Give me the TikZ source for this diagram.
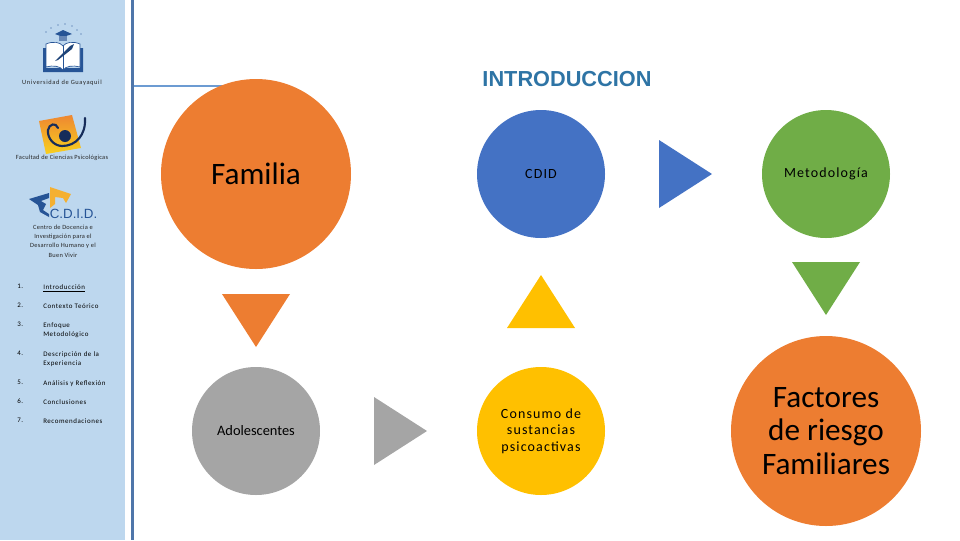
\documentclass[tikz,border=0pt]{standalone}
\usepackage{fontspec}
\setmainfont{Carlito}
\newfontfamily\headfont{Liberation Sans}
\newfontfamily\discfont[LetterSpace=8]{Carlito}
\newfontfamily\itemfont[LetterSpace=8]{Carlito}
\newfontfamily\capfont[LetterSpace=4]{Carlito}
\newfontfamily\widecapfont[LetterSpace=10]{Carlito}
\definecolor{sidebar}{RGB}{189,215,238}
\definecolor{rulecol}{RGB}{79,118,170}
\definecolor{linecol}{RGB}{108,155,210}
\definecolor{titlecol}{RGB}{46,116,165}
\definecolor{orangec}{RGB}{237,125,49}
\definecolor{bluec}{RGB}{68,114,196}
\definecolor{greenc}{RGB}{112,173,71}
\definecolor{grayc}{RGB}{165,165,165}
\definecolor{yellowc}{RGB}{255,192,0}
\definecolor{logoblue}{RGB}{38,84,150}
\definecolor{logodark}{RGB}{22,44,90}
\definecolor{logogold}{RGB}{244,176,50}
\tikzset{
  bigdisc/.style={circle,minimum size=190*0.75pt,inner sep=0pt,align=center,font=\fontsize{23.4}{25}\selectfont},
  smalldisc/.style={circle,minimum size=128*0.75pt,inner sep=0pt,align=center,font=\discfont\fontsize{10.5}{12.5}\selectfont},
  sidetext/.style={anchor=north west,inner sep=0pt,font=\itemfont\fontsize{5.2}{7}\selectfont,align=left},
  sidecap/.style={inner sep=0pt,font=\capfont\fontsize{4.8}{7.1}\selectfont,align=center,text=black!85},
}
\begin{document}
\begin{tikzpicture}[x=0.75pt,y=0.75pt,yscale=-1,xscale=1]
\useasboundingbox (0,0) rectangle (960,540);

%Side panel
\fill [sidebar] (0,0) rectangle (125,540);
%Straight Lines
\draw [rulecol,line width=2.2pt] (132.5,0) -- (132.5,540);
\draw [linecol,line width=2.2pt] (134,86) -- (225,86);

%Logo: book
\fill [logoblue] (43,72) -- (83,72) -- (83,48) -- (80,48) -- (80,68) -- (46,68) -- (46,48) -- (43,48) -- cycle;
\draw [logoblue,fill=white,line width=0.5pt] (46,44) .. controls (53,41) and (60,42) .. (63,46) .. controls (66,42) and (73,41) .. (80,44) -- (80,67) .. controls (73,65) and (66,66) .. (63,70) .. controls (60,66) and (53,65) .. (46,67) -- cycle;
\draw [logoblue,line width=0.5pt] (63,46) -- (63,70);
\fill [logoblue!80!black] (55,61) -- (70,46) -- (74,44) -- (72,49) -- (58,60) -- cycle;
\fill [logoblue] (55,34) -- (63,30) -- (72,34) -- (63,37) -- cycle;
\fill [logoblue!70] (59,36) rectangle (67,41);
\foreach \dotx/\doty in {46/32,51/28,58/25,65/24,72/26,77/30,81/34} {
  \fill [logoblue] (\dotx,\doty) circle (0.7);
}
%Logo: psychology
\shade [top color=orangec!80!logogold,bottom color=logogold!60!yellow] (39,121) -- (72,115) -- (81,148) -- (46,154) -- cycle;
\fill [logodark] (65,136) circle (6);
\draw [logodark,line width=1.6pt,line cap=round] (85,118) .. controls (86,135) and (76,146) .. (62,146) .. controls (54,146) and (47,138) .. (48,130) .. controls (49,124) and (56,122) .. (58,128);
%Logo: C.D.I.D.
\fill [logoblue] (29,199) -- (49,193) -- (49,198) -- (41,201) -- (46,204) -- (43,210) -- (49,214) -- (49,217) -- (40,212) -- (38,205) -- cycle;
\fill [logogold] (50,187) -- (71,194) -- (66,203) -- (63,198) -- (55,197) -- (55,204) -- (50,208) -- cycle;
\node (cdidmark) [inner sep=0pt,text=logoblue,font=\headfont\fontsize{10}{12}\selectfont] at (73.5,214) {C.D.I.D.};

% Text Node
\node (capuni) [sidecap,font=\widecapfont\fontsize{4.8}{7.1}\selectfont] at (62,83) {Universidad de Guayaquil};
\node (capfac) [sidecap] at (62,158) {Facultad de Ciencias Psicológicas};
\node (capcen) [sidecap] at (63,241) {Centro de Docencia e\\Investigación para el\\Desarrollo Humano y el\\Buen Vivir};

% Text Node
\node (num1) [sidetext] at (17,284) {1.};
\node (item1) [sidetext] at (43,284) {\underline{Introducción}};
\node (num2) [sidetext] at (17,303) {2.};
\node (item2) [sidetext] at (43,303) {Contexto Teórico};
\node (num3) [sidetext] at (17,322) {3.};
\node (item3) [sidetext] at (43,322) {Enfoque\\Metodológico};
\node (num4) [sidetext] at (17,351) {4.};
\node (item4) [sidetext] at (43,351) {Descripción de la\\Experiencia};
\node (num5) [sidetext] at (17,380) {5.};
\node (item5) [sidetext] at (43,380) {Análisis y Reflexión};
\node (num6) [sidetext] at (17,399) {6.};
\node (item6) [sidetext] at (43,399) {Conclusiones};
\node (num7) [sidetext] at (17,418) {7.};
\node (item7) [sidetext] at (43,418) {Recomendaciones};

% Text Node
\node (title) [inner sep=0pt,font=\headfont\bfseries\fontsize{16.3}{18}\selectfont,text=titlecol] at (567,79) {INTRODUCCION};

%Flowchart: Connector
\node (familia) [bigdisc,fill=orangec] at (256,174) {Familia};
\node (cdid) [smalldisc,fill=bluec] at (541,174) {CDID};
\node (metodo) [smalldisc,fill=greenc] at (826,174) {Metodología};
\node (adoles) [smalldisc,fill=grayc,font=\fontsize{10.8}{13}\selectfont] at (256,431) {Adolescentes};
\node (consumo) [smalldisc,fill=yellowc] at (541,431) {Consumo de\\sustancias\\psicoactivas};
\node (factores) [bigdisc,fill=orangec] at (826,431) {Factores\\de riesgo\\Familiares};

%Shape: Triangle
\fill [orangec] (222,294) -- (290,294) -- (256,347) -- cycle;
\fill [grayc] (374,397) -- (427,431) -- (374,465) -- cycle;
\fill [yellowc] (541,275) -- (575,328) -- (507,328) -- cycle;
\fill [bluec] (659,140) -- (712,174) -- (659,208) -- cycle;
\fill [greenc] (792,262) -- (860,262) -- (826,315) -- cycle;

\end{tikzpicture}
\end{document}
